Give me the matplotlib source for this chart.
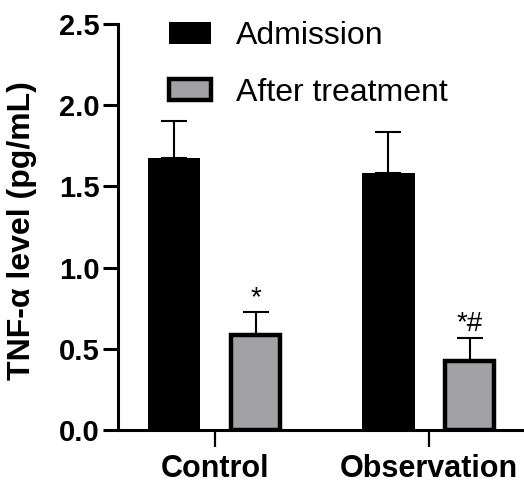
import matplotlib
matplotlib.use('Agg')
import matplotlib.pyplot as plt
import matplotlib.transforms as mtransforms
import numpy as np
from matplotlib.patches import Patch

groups = ['Control', 'Observation']
series = ['Admission', 'After treatment']
admission = [1.675, 1.584]
admission_err = [0.23, 0.25]
after = [0.586, 0.423]
after_err = [0.141, 0.142]
annotations = ['*', '*#']
yticks = [0.0, 0.5, 1.0, 1.5, 2.0, 2.5]

plt.rcParams['font.family'] = ['Liberation Sans', 'DejaVu Sans']

fig = plt.figure(figsize=(5.24, 4.83), dpi=100)
ax = fig.add_axes([118/524, 53/483, 406/524, 406/483])

x = np.arange(len(groups))
off = 0.19
w = 0.245
gray = '#a2a2a5'
edge_lw = 3.2

ax.bar(x - off, admission, w, color='black', edgecolor='black', linewidth=0, zorder=3)
ax.errorbar(x - off, admission, yerr=[np.zeros(len(x)), admission_err], fmt='none',
            ecolor='black', elinewidth=1.5, capsize=9.5, capthick=1.5, zorder=2)
ax.bar(x + off, after, w - 0.016, color=gray, edgecolor='black', linewidth=edge_lw, zorder=3)
ax.errorbar(x + off, after, yerr=[np.zeros(len(x)), after_err], fmt='none',
            ecolor='black', elinewidth=1.5, capsize=9.5, capthick=1.5, zorder=2)

for xi, v, e, t in zip(x + off, after, after_err, annotations):
    ax.annotate(t, (xi, v + e), xytext=(0, 5), textcoords='offset points',
                ha='center', va='baseline', fontsize=20)

ax.set_xlim(-0.452, 1.443)
ax.set_ylim(0, 2.5)
ax.set_yticks(yticks)
ax.set_yticklabels([f'{t:.1f}' for t in yticks], fontsize=21, fontweight='bold')
ax.set_xticks(x)
ax.set_xticklabels(groups, fontsize=22, fontweight='bold')
shift = mtransforms.ScaledTranslation(-6/100, 0, fig.dpi_scale_trans)
for lbl in ax.get_xticklabels():
    lbl.set_transform(lbl.get_transform() + shift)

for s in ['top', 'right']:
    ax.spines[s].set_visible(False)
for s in ['left', 'bottom']:
    ax.spines[s].set_linewidth(2.2)
ax.tick_params(axis='y', length=11, width=2.2, pad=2)
ax.tick_params(axis='x', length=12, width=1.6, pad=5)

ax.set_ylabel('TNF-α level (pg/mL)', fontsize=23, fontweight='bold')
ax.yaxis.set_label_coords(-0.2, 0.49)

handles = [Patch(facecolor='black', edgecolor='black', linewidth=0),
           Patch(facecolor=gray, edgecolor='black', linewidth=edge_lw)]
fig.legend(handles, series, loc='upper left', bbox_to_anchor=(169/524, 1 - 21/483),
           frameon=False, fontsize=23, borderpad=0, borderaxespad=0,
           handlelength=1.32, handleheight=0.66, handletextpad=0.78, labelspacing=0.84)

fig.savefig('out.png', dpi=100)
